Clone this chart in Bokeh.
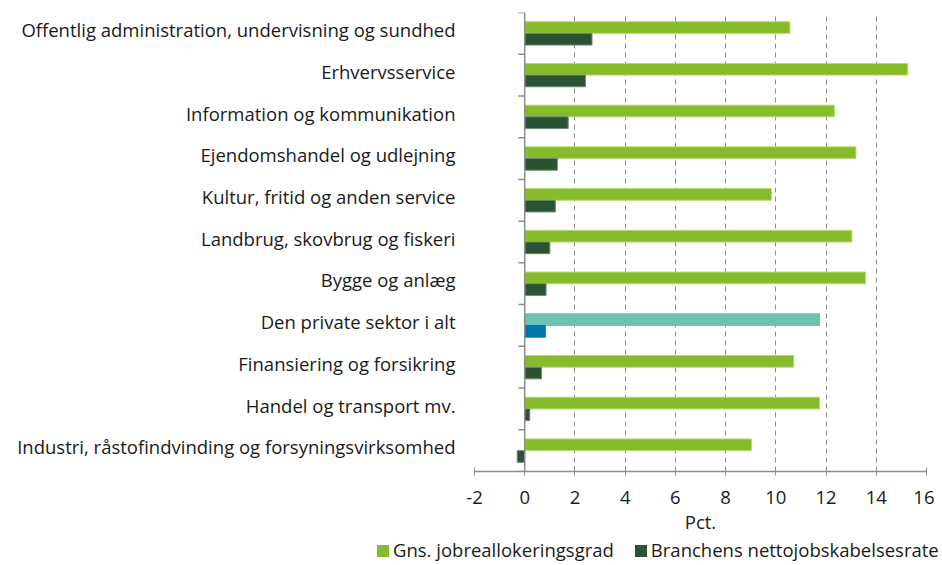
import numpy as np
from bokeh.plotting import figure
from bokeh.layouts import column
from bokeh.models import ColumnDataSource, FixedTicker, Span, Div
from bokeh.embed import file_html
from bokeh.resources import INLINE

categories = [
    "Offentlig administration, undervisning og sundhed",
    "Erhvervsservice",
    "Information og kommunikation",
    "Ejendomshandel og udlejning",
    "Kultur, fritid og anden service",
    "Landbrug, skovbrug og fiskeri",
    "Bygge og anlæg",
    "Den private sektor i alt",
    "Finansiering og forsikring",
    "Handel og transport mv.",
    "Industri, råstofindvinding og forsyningsvirksomhed",
]
realloc = [10.56, 15.25, 12.33, 13.19, 9.82, 13.03, 13.57, 11.74, 10.71, 11.74, 9.03]
netjob = [2.68, 2.42, 1.73, 1.30, 1.22, 1.00, 0.85, 0.82, 0.67, 0.20, -0.30]
series_names = ["Gns. jobreallokeringsgrad", "Branchens nettojobskabelsesrate"]
x_ticks = [-2, 0, 2, 4, 6, 8, 10, 12, 14, 16]
highlight = "Den private sektor i alt"

FONT = "Open Sans"
FS = "18.5px"
GREEN, GREEN_EDGE = "#86BC29", "#B5D97A"
DARK, DARK_EDGE = "#2A5334", "#6E8A73"
TEAL, BLUE = "#6EC2B3", "#0077AA"

n = len(categories)
ypos = np.arange(n - 1, -1, -1).astype(float)
off = 0.14
bh = 0.28
label_lift = 0.09  # category labels sit slightly above the row centre

src = ColumnDataSource(dict(
    yg=ypos + off, yd=ypos - off,
    realloc=realloc, netjob=netjob,
    cg=[TEAL if c == highlight else GREEN for c in categories],
    cge=[TEAL if c == highlight else GREEN_EDGE for c in categories],
    cd=[BLUE if c == highlight else DARK for c in categories],
    cde=[BLUE if c == highlight else DARK_EDGE for c in categories],
))

P_H = 539
p = figure(width=934, height=P_H, output_backend="svg", toolbar_location=None,
           x_range=(-2, 16), y_range=(-0.5, n - 0.5),
           min_border_left=474, min_border_right=8, min_border_top=12,
           min_border_bottom=P_H - 471)
p.outline_line_color = None
p.background_fill_color = "white"

# grid
p.ygrid.grid_line_color = None
p.xgrid.ticker = FixedTicker(ticks=x_ticks)
p.xgrid.grid_line_color = "#8C8C8C"
p.xgrid.grid_line_dash = "5 4"
p.xgrid.grid_line_width = 1

p.hbar(y="yg", left=0, right="realloc", height=bh, source=src,
       fill_color="cg", line_color="cge", line_width=1)
p.hbar(y="yd", left=0, right="netjob", height=bh, source=src,
       fill_color="cd", line_color="cde", line_width=1)

# vertical axis line at zero with category separator ticks
p.add_layout(Span(location=0, dimension="height", line_color="#8C8C8C", line_width=1.5))
bounds = np.arange(-0.5, n, 1.0)
p.segment(x0=-0.25, x1=0, y0=bounds, y1=bounds, line_color="#8C8C8C", line_width=1.5)

# x axis
xa = p.xaxis[0]
xa.ticker = FixedTicker(ticks=x_ticks)
xa.major_label_overrides = {t: str(t) for t in x_ticks}
xa.axis_line_color = "#8C8C8C"
xa.axis_line_width = 1.5
xa.major_tick_line_color = "#8C8C8C"
xa.major_tick_in = 4
xa.major_tick_out = 4
xa.minor_tick_line_color = None
xa.major_label_text_font = FONT
xa.major_label_text_font_size = FS
xa.major_label_text_color = "#1a1a1a"
xa.major_label_standoff = 15
xa.axis_label = "Pct."
xa.axis_label_text_font = FONT
xa.axis_label_text_font_size = FS
xa.axis_label_text_font_style = "normal"
xa.axis_label_text_color = "#1a1a1a"
xa.axis_label_standoff = 2

# y axis (category labels)
label_pos = [float(y + label_lift) for y in ypos]
ya = p.yaxis[0]
ya.ticker = FixedTicker(ticks=label_pos)
ya.major_label_overrides = {y: c for y, c in zip(label_pos, categories)}
ya.axis_line_color = None
ya.major_tick_line_color = None
ya.minor_tick_line_color = None
ya.major_tick_out = 0
ya.major_tick_in = 0
ya.major_label_standoff = 19
ya.major_label_text_font = FONT
ya.major_label_text_font_size = FS
ya.major_label_text_color = "#1a1a1a"

# legend strip (HTML text)
def swatch(color):
    return ('<span style="display:inline-block;width:12px;height:12px;'
            f'background:{color};margin-right:4px;vertical-align:0px"></span>')

legend_html = (
    '<div style="font-family:\'Open Sans\';font-size:18.5px;color:#1a1a1a;'
    'white-space:nowrap;padding-left:377px;padding-top:2px;line-height:18px">'
    f'{swatch(GREEN)}{series_names[0]}'
    '<span style="display:inline-block;width:21px"></span>'
    f'{swatch(DARK)}{series_names[1]}</div>'
)
leg = Div(text=legend_html, width=942, height=565 - P_H, margin=(0, 0, 0, 0))

layout = column(p, leg, spacing=0)
open("out.html", "w").write(file_html(layout, INLINE))
